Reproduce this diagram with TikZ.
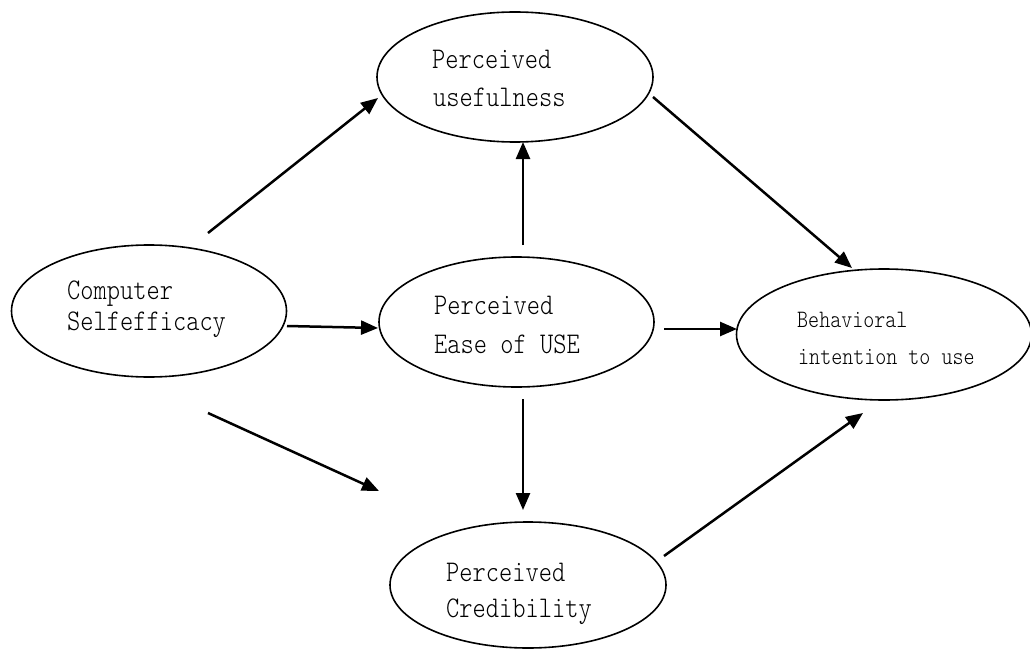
\documentclass[tikz,border=0pt]{standalone}
\usepackage{fontspec}
\newfontfamily\monofnt{lmmonolt10-regular.otf}[FakeStretch=0.84]
\usetikzlibrary{arrows.meta,shapes.geometric}
\tikzset{
  construct/.style={draw=black, line width=1.6pt, ellipse, inner sep=0pt},
  lbl/.style={anchor=base west, inner sep=0pt, font=\monofnt\fontsize{30}{33}\selectfont},
  lblsmall/.style={anchor=base west, inner sep=0pt, font=\monofnt\fontsize{25}{28}\selectfont},
  linkarrow/.style={line width=2.5pt, -{Triangle[length=17pt,width=14pt]}}
}
\begin{document}
\begin{tikzpicture}[x=1pt,y=-1pt]
\useasboundingbox (0,0) rectangle (1030,650);
% ellipses
\node[construct, minimum width=276pt, minimum height=130pt] (pu) at (515,77) {};
\node[construct, minimum width=275pt, minimum height=132pt] (cse) at (149,311) {};
\node[construct, minimum width=275pt, minimum height=130pt] (peou) at (516.5,322) {};
\node[construct, minimum width=295pt, minimum height=131pt] (bi) at (884,334.5) {};
\node[construct, minimum width=276pt, minimum height=126pt] (pc) at (528,585) {};
% labels
\node[lbl] (pu1) at (432,69) {Perceived};
\node[lbl] (pu2) at (433,107) {usefulness};
\node[lbl] (cse1) at (67,299) {Computer};
\node[lbl] (cse2) at (67,330) {Selfefficacy};
\node[lbl] (peou1) at (434,314) {Perceived};
\node[lbl] (peou2) at (434,353) {Ease of USE};
\node[lblsmall] (bi1) at (797,327) {Behavioral};
\node[lblsmall] (bi2) at (798,364) {intention to use};
\node[lbl] (pc1) at (446,581) {Perceived};
\node[lbl] (pc2) at (446,617) {Credibility};
% connector end points
\coordinate (a1) at (208,233); \coordinate (b1) at (378,98);
\coordinate (a2) at (287,326); \coordinate (b2) at (378,328);
\coordinate (a3) at (208,413); \coordinate (b3) at (379,491);
\coordinate (a4) at (523,245); \coordinate (b4) at (523,142);
\coordinate (a5) at (523,399); \coordinate (b5) at (523,510);
\coordinate (a6) at (664,329); \coordinate (b6) at (737,329);
\coordinate (a7) at (653,97);  \coordinate (b7) at (852,268);
\coordinate (a8) at (664,556); \coordinate (b8) at (863,413);
\draw[linkarrow] (a1) -- (b1);
\draw[linkarrow] (a2) -- (b2);
\draw[linkarrow] (a3) -- (b3);
\draw[linkarrow] (a4) -- (b4);
\draw[linkarrow] (a5) -- (b5);
\draw[linkarrow] (a6) -- (b6);
\draw[linkarrow] (a7) -- (b7);
\draw[linkarrow] (a8) -- (b8);
\end{tikzpicture}
\end{document}
